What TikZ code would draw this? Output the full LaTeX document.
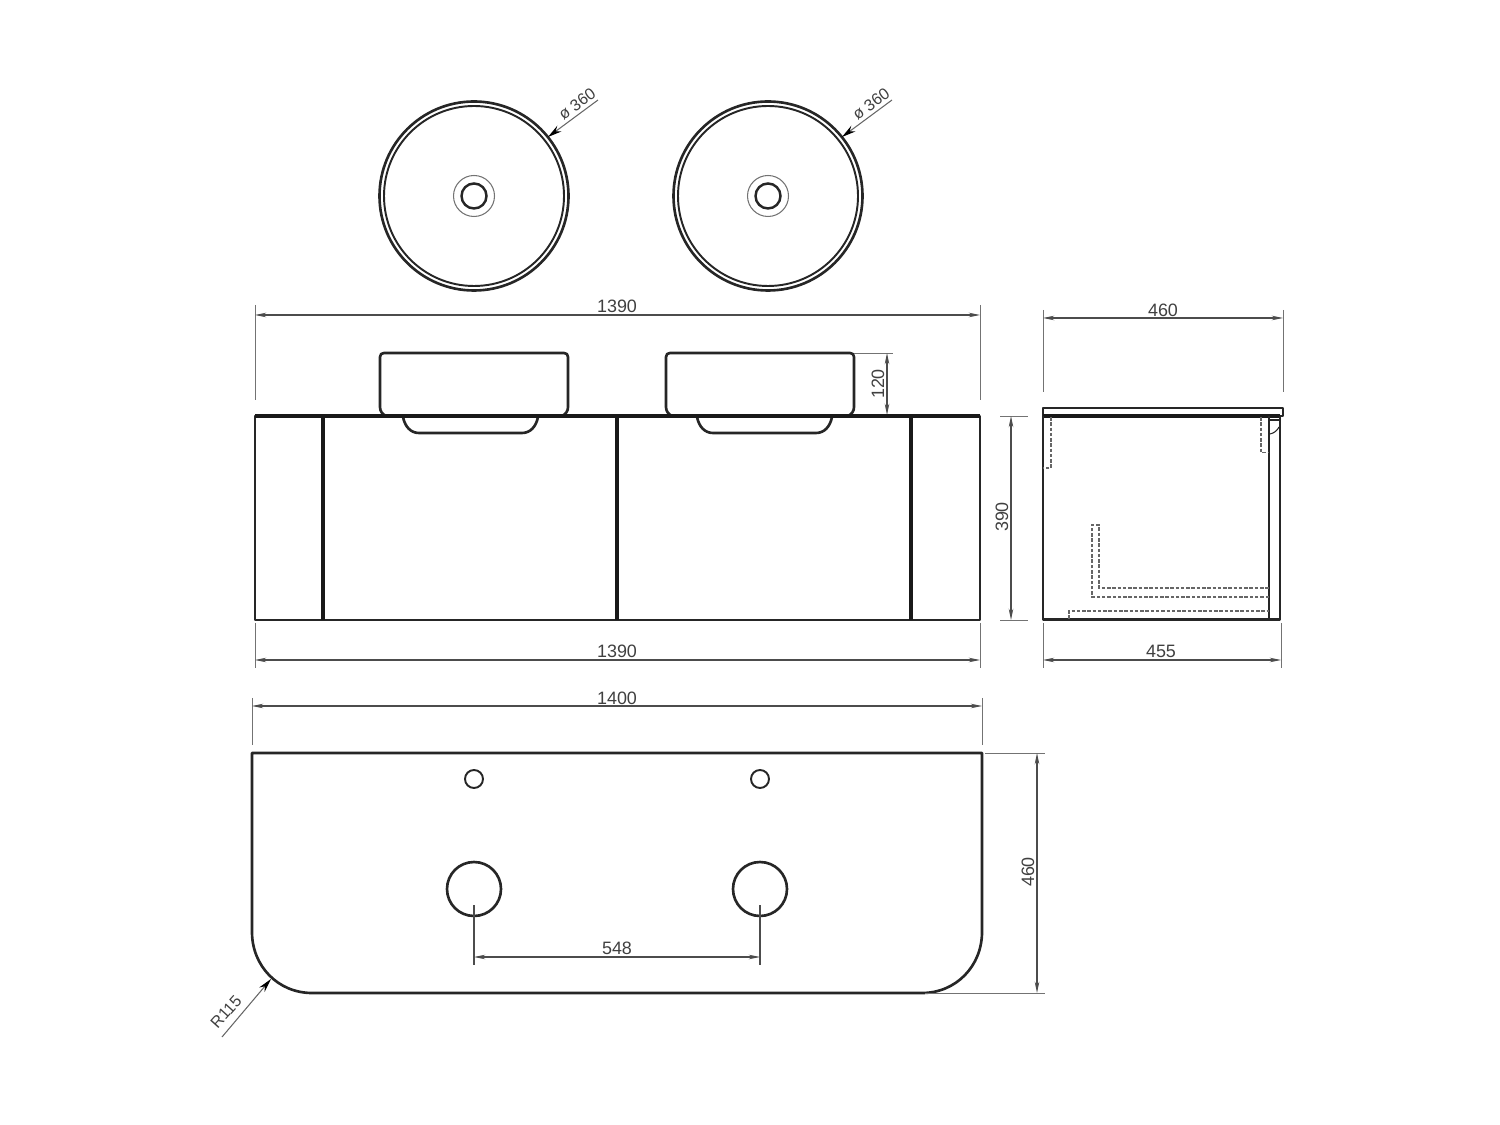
\documentclass[tikz,border=0pt]{standalone}
\usepackage{fontspec}
\setmainfont{Liberation Sans}
\usetikzlibrary{arrows.meta}
\tikzset{
  obj/.style={draw=black!85,line width=0.75pt,line join=round},
  objthin/.style={draw=black!85,line width=0.55pt},
  heavy/.style={draw=black!90,line width=0.95pt},
  ext/.style={draw=black!55,line width=0.22pt},
  dimline/.style={draw=black!70,line width=0.3pt,{Stealth[length=3.2pt,width=1.3pt]}-{Stealth[length=3.2pt,width=1.3pt]}},
  lead/.style={draw=black!60,line width=0.3pt,{Stealth[length=4pt,width=2pt,black]}-},
  hid/.style={draw=black!60,line width=0.5pt,dash pattern=on 1pt off 0.5pt},
  lbl/.style={font=\fontsize{5.1}{6}\selectfont,text=black!75,inner sep=0pt},
  lblr/.style={font=\fontsize{4.6}{6}\selectfont,text=black!75,inner sep=0pt},
}
\begin{document}
\begin{tikzpicture}[x=0.01cm,y=-0.01cm]
\useasboundingbox (0,0) rectangle (1500,1125);
% --- top view basins
\foreach \cx in {474,768}{
  \draw[obj] (\cx,196) circle[radius=94.5];
  \draw[objthin] (\cx,196) circle[radius=90];
  \draw[draw=black!55,line width=0.3pt] (\cx,196) circle[radius=20.5];
  \draw[objthin,line width=0.7pt] (\cx,196) circle[radius=12.5];
}
\draw[lead] (548,137) -- (598,100);
\node[lblr,rotate=36] (phia) at (577,104) {ø 360};
\draw[lead] (842,137) -- (892,100);
\node[lblr,rotate=36] (phib) at (871,104) {ø 360};
% --- front elevation
\draw[ext] (255,305) -- (255,400);
\draw[ext] (980,305) -- (980,400);
\draw[dimline] (255,315) -- (980,315);
\node[lbl] (w1) at (617,306.5) {1390};
\foreach \x/\h in {380/403,666/697}{
  \draw[obj] (\x+6,416) .. controls (\x+2,414) and (\x,411) .. (\x,407) -- (\x,357) .. controls (\x,354.5) and (\x+1.5,353) .. (\x+4,353) -- (\x+184,353) .. controls (\x+186.5,353) and (\x+188,354.5) .. (\x+188,357) -- (\x+188,407) .. controls (\x+188,411) and (\x+186,414) .. (\x+182,416);
  \draw[obj] (\h,417) .. controls (\h+2,427) and (\h+8,433) .. (\h+16,433) -- (\h+119,433) .. controls (\h+127,433) and (\h+133,427) .. (\h+135,417);
}
\draw[ext] (854,353) -- (893,353);
\draw[ext] (854,415) -- (893,415);
\draw[dimline] (887,353) -- (887,415);
\node[lbl,rotate=90] (h120) at (878,384) {120};
\draw[obj] (255,416) rectangle (980,620);
\draw[heavy] (255,416) -- (980,416);
\foreach \x in {323,617,911}{ \draw[heavy] (\x,416) -- (\x,620); }
\draw[ext] (255,623) -- (255,668);
\draw[ext] (980,623) -- (980,668);
\draw[dimline] (255,660) -- (980,660);
\node[lbl] (w2) at (617,651.5) {1390};
\draw[ext] (1000,416) -- (1028,416);
\draw[ext] (1000,620) -- (1028,620);
\draw[dimline] (1011,416) -- (1011,620);
\node[lbl,rotate=90] (h390) at (1002,517) {390};
% --- side elevation
\draw[ext] (1043,310) -- (1043,392);
\draw[ext] (1283,310) -- (1283,392);
\draw[dimline] (1043,318) -- (1283,318);
\node[lbl] (d460) at (1163,310) {460};
\draw[obj] (1043,408) rectangle (1283,416);
\draw[heavy] (1043,416) -- (1280,416);
\draw[obj] (1043,416) -- (1043,619.5) -- (1280,619.5) -- (1280,416);
\draw[obj] (1269,416) -- (1269,619.5);
\draw[objthin,line width=0.4pt] (1269,420) -- (1280,420);
\draw[objthin,line width=0.3pt] (1270,434) .. controls (1274,433) and (1277,431) .. (1279,427);
\draw[hid] (1051,417) -- (1051,468) -- (1043,468);
\draw[hid] (1261,417) -- (1261,452.5) -- (1269,452.5);
\draw[hid] (1269,597) -- (1092,597) -- (1092,525) -- (1099,525) -- (1099,588) -- (1269,588);
\draw[hid] (1069,619) -- (1069,611) -- (1269,611);
\draw[ext] (1043,623) -- (1043,668);
\draw[ext] (1281,623) -- (1281,668);
\draw[dimline] (1043,660) -- (1281,660);
\node[lbl] (d455) at (1161,651.5) {455};
% --- plan
\draw[ext] (252,698) -- (252,745);
\draw[ext] (982,698) -- (982,745);
\draw[dimline] (252,706) -- (982,706);
\node[lbl] (w3) at (617,698.5) {1400};
\draw[obj] (252,753) -- (982,753) -- (982,932) .. controls (982,966) and (956,993) .. (922,993) -- (312,993) .. controls (278,993) and (252,966) .. (252,932) -- cycle;
\foreach \x in {474,760}{
  \draw[objthin] (\x,779) circle[radius=9];
  \draw[obj] (\x,889) circle[radius=27];
  \draw[draw=black!70,line width=0.3pt] (\x,905) -- (\x,965);
}
\draw[dimline] (474,957) -- (760,957);
\node[lbl] (c548) at (617,948.5) {548};
\draw[ext] (925,993) -- (1045,993);
\draw[ext] (985,753) -- (1045,753);
\draw[dimline] (1037,753) -- (1037,993);
\node[lbl,rotate=90] (h460) at (1028,872) {460};
\draw[lead] (271,979) -- (222,1037);
\node[lblr,rotate=48] (r115) at (226,1012) {R115};
\end{tikzpicture}
\end{document}
